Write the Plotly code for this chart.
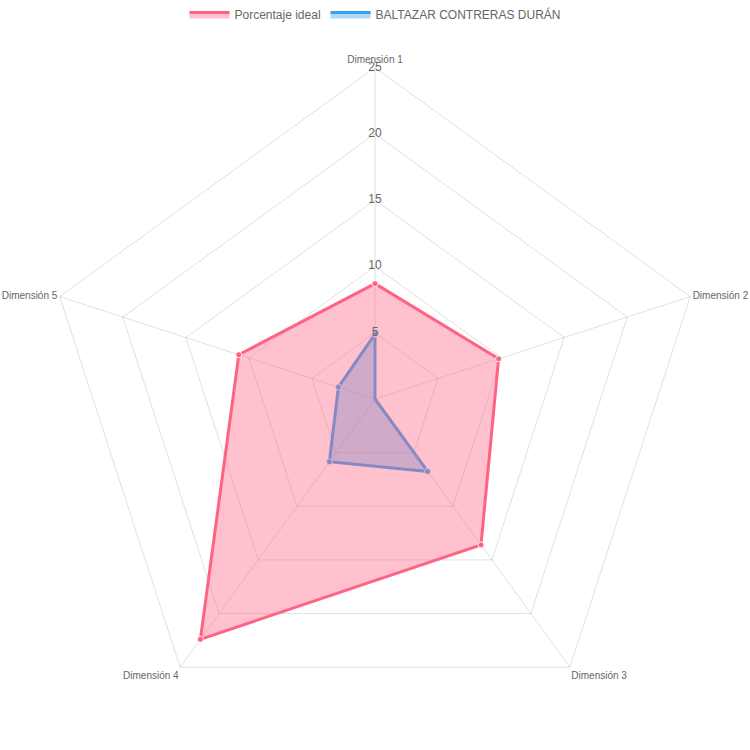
import plotly.graph_objects as go

categories = ["Dimensión 1", "Dimensión 2", "Dimensión 3", "Dimensión 4", "Dimensión 5"]
ideal_values = [8.7, 9.8, 13.6, 22.4, 10.8]
person_values = [4.9, 0.0, 6.75, 5.85, 2.9]
radial_ticks = [5, 10, 15, 20, 25]
series_names = ["Porcentaje ideal", "BALTAZAR CONTRERAS DURÁN"]

FONT = "Liberation Sans, Arial, Helvetica, sans-serif"
PINK = "rgb(255,99,132)"
PINK_FILL = "rgba(255,99,132,0.4)"
BLUE = "rgb(54,162,235)"
BLUE_FILL = "rgba(54,162,235,0.4)"
GRID = "rgba(0,0,0,0.12)"

def closed(v):
    return list(v) + [v[0]]

fig = go.Figure()

# Blue drawn first so the pink area sits on top (as in Chart.js)
fig.add_trace(go.Scatterpolar(
    r=closed(person_values), theta=closed(categories),
    name=series_names[1], fill="toself", fillcolor=BLUE_FILL,
    mode="lines+markers",
    line=dict(color=BLUE, width=3),
    marker=dict(size=6, color=BLUE, line=dict(color="rgba(255,255,255,0.8)", width=1)),
    showlegend=False,
))
fig.add_trace(go.Scatterpolar(
    r=closed(ideal_values), theta=closed(categories),
    name=series_names[0], fill="toself", fillcolor=PINK_FILL,
    mode="lines+markers",
    line=dict(color=PINK, width=3),
    marker=dict(size=6, color=PINK, line=dict(color="rgba(255,255,255,0.8)", width=1)),
    showlegend=False,
))
# legend-only entries (box style)
for name, lc, fc, rank in [(series_names[0], PINK, PINK_FILL, 1), (series_names[1], BLUE, BLUE_FILL, 2)]:
    fig.add_trace(go.Scatterpolar(
        r=[0], theta=[categories[0]], name=name, mode="lines", fill="toself",
        fillcolor=fc, line=dict(color=lc, width=3), legendrank=rank,
        hoverinfo="skip",
    ))
# radial tick labels centred on the vertical axis
fig.add_trace(go.Scatterpolar(
    r=radial_ticks, theta=[categories[0]] * len(radial_ticks),
    mode="text", text=[str(t) for t in radial_ticks],
    textfont=dict(family=FONT, size=12, color="#666"),
    textposition="middle center", showlegend=False, hoverinfo="skip",
))

fig.update_layout(
    width=750, height=750,
    margin=dict(l=0, r=0, t=0, b=0),
    paper_bgcolor="white",
    font=dict(family=FONT, color="#666", size=12),
    showlegend=True,
    legend=dict(orientation="h", x=0.5, xanchor="center", y=1.0, yanchor="top",
                font=dict(family=FONT, size=12, color="#666"), itemwidth=40),
    polar=dict(
        domain=dict(x=[43.5 / 750, 706.5 / 750], y=[19.5 / 750, 682.5 / 750]),
        bgcolor="white",
        gridshape="linear",
        radialaxis=dict(range=[0, 25], tickvals=radial_ticks, showticklabels=False,
                        ticks="", showline=False, gridcolor=GRID, angle=90),
        angularaxis=dict(rotation=90, direction="clockwise", gridcolor=GRID,
                         showline=True, linecolor=GRID, ticks="",
                         tickfont=dict(family=FONT, size=10, color="#666")),
    ),
)

fig.write_html("out.html")
